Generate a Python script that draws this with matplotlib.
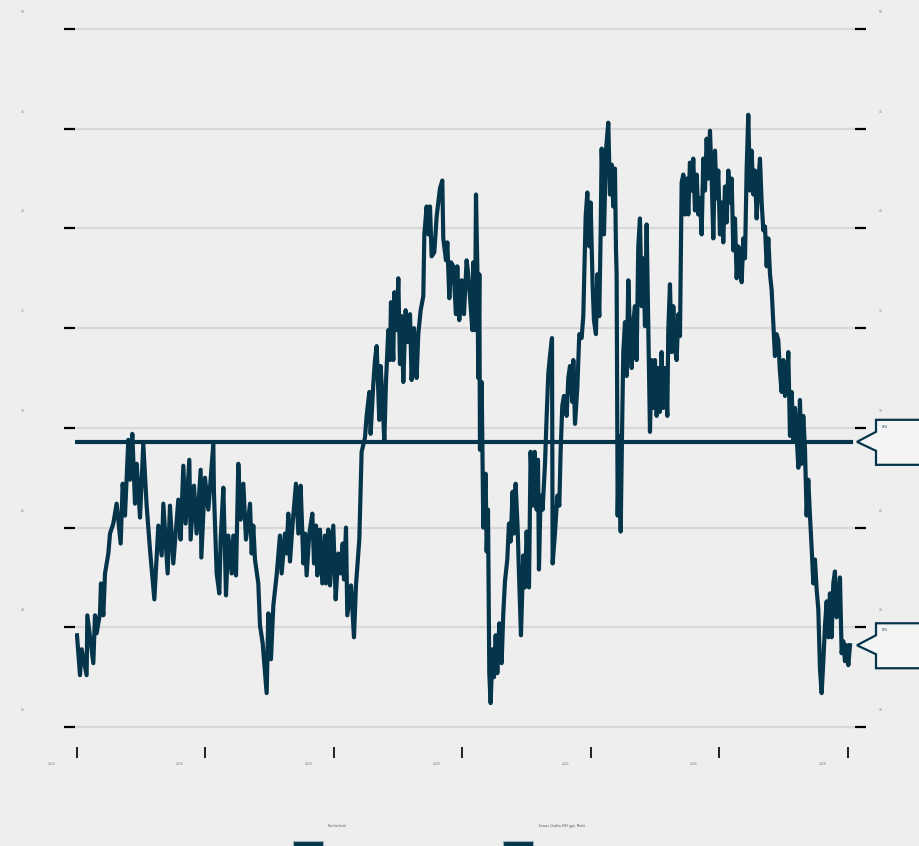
import matplotlib.pyplot as plt
import matplotlib.transforms as mtransforms
from matplotlib.patches import Polygon, Rectangle

# ---- data ----
years = [
    2014.000, 2014.047, 2014.073, 2014.150, 2014.161, 2014.254, 2014.280, 2014.306, 2014.358, 2014.373,
    2014.410, 2014.436, 2014.488, 2014.514, 2014.565, 2014.617, 2014.680, 2014.711, 2014.747, 2014.799,
    2014.825, 2014.861, 2014.903, 2014.929, 2014.981, 2015.032, 2015.084, 2015.136, 2015.204, 2015.266,
    2015.318, 2015.344, 2015.411, 2015.447, 2015.499, 2015.577, 2015.613, 2015.655, 2015.691, 2015.748,
    2015.769, 2015.821, 2015.862, 2015.925, 2015.935, 2015.992, 2016.044, 2016.122, 2016.132, 2016.174,
    2016.215, 2016.236, 2016.278, 2016.319, 2016.355, 2016.407, 2016.433, 2016.475, 2016.511, 2016.547,
    2016.589, 2016.630, 2016.693, 2016.719, 2016.744, 2016.770, 2016.822, 2016.848, 2016.890, 2016.952,
    2016.978, 2017.019, 2017.056, 2017.107, 2017.159, 2017.185, 2017.237, 2017.263, 2017.289, 2017.315,
    2017.356, 2017.408, 2017.445, 2017.481, 2017.523, 2017.548, 2017.574, 2017.616, 2017.663, 2017.689,
    2017.720, 2017.740, 2017.782, 2017.818, 2017.860, 2017.875, 2017.912, 2017.938, 2017.989, 2018.026,
    2018.067, 2018.104, 2018.135, 2018.156, 2018.187, 2018.207, 2018.265, 2018.311, 2018.342, 2018.394,
    2018.430, 2018.482, 2018.508, 2018.550, 2018.570, 2018.612, 2018.638, 2018.664, 2018.705, 2018.726,
    2018.767, 2018.783, 2018.809, 2018.845, 2018.871, 2018.887, 2018.923, 2018.939, 2018.975, 2019.001,
    2019.027, 2019.053, 2019.079, 2019.115, 2019.146, 2019.183, 2019.208, 2019.245, 2019.286, 2019.312,
    2019.349, 2019.390, 2019.406, 2019.442, 2019.468, 2019.494, 2019.520, 2019.561, 2019.598, 2019.623,
    2019.649, 2019.686, 2019.701, 2019.743, 2019.764, 2019.795, 2019.821, 2019.857, 2019.898, 2019.919,
    2019.950, 2019.987, 2020.023, 2020.064, 2020.090, 2020.116, 2020.153, 2020.168, 2020.194, 2020.210,
    2020.231, 2020.246, 2020.262, 2020.272, 2020.298, 2020.324, 2020.360, 2020.376, 2020.397, 2020.417,
    2020.438, 2020.469, 2020.490, 2020.516, 2020.542, 2020.573, 2020.609, 2020.635, 2020.661, 2020.697,
    2020.723, 2020.749, 2020.780, 2020.801, 2020.827, 2020.858, 2020.884, 2020.910, 2020.946, 2020.972,
    2020.998, 2021.035, 2021.060, 2021.092, 2021.123, 2021.154, 2021.175, 2021.190, 2021.216, 2021.247,
    2021.284, 2021.310, 2021.335, 2021.361, 2021.393, 2021.403, 2021.439, 2021.476, 2021.507, 2021.527,
    2021.553, 2021.579, 2021.621, 2021.647, 2021.673, 2021.709, 2021.725, 2021.751, 2021.787, 2021.818,
    2021.854, 2021.880, 2021.917, 2021.943, 2021.974, 2021.994, 2022.025, 2022.046, 2022.077, 2022.098,
    2022.129, 2022.150, 2022.166, 2022.202, 2022.233, 2022.269, 2022.295, 2022.321, 2022.347, 2022.373,
    2022.389, 2022.399, 2022.415, 2022.436, 2022.462, 2022.487, 2022.503, 2022.529, 2022.555, 2022.581,
    2022.607, 2022.633, 2022.658, 2022.684, 2022.710, 2022.736, 2022.762, 2022.788, 2022.814, 2022.840,
    2022.866, 2022.892, 2022.918, 2022.944, 2022.970, 2022.996, 2023.022, 2023.048, 2023.073, 2023.099,
    2023.125, 2023.151, 2023.188, 2023.203, 2023.229, 2023.255, 2023.281, 2023.307, 2023.333, 2023.359,
    2023.385, 2023.411, 2023.437, 2023.463, 2023.489, 2023.515, 2023.540, 2023.566, 2023.592, 2023.618,
    2023.644, 2023.670, 2023.696, 2023.722, 2023.748, 2023.774, 2023.800, 2023.826, 2023.852, 2023.878,
    2023.904, 2023.930, 2023.955, 2023.981, 2024.007, 2024.033, 2024.059, 2024.085, 2024.111, 2024.137,
    2024.163, 2024.189, 2024.215, 2024.241, 2024.267, 2024.293, 2024.319, 2024.345, 2024.371, 2024.397,
    2024.422, 2024.448, 2024.474, 2024.500, 2024.526, 2024.552, 2024.578, 2024.604, 2024.630, 2024.656,
    2024.682, 2024.708, 2024.734, 2024.760, 2024.786, 2024.812, 2024.837, 2024.863, 2024.889, 2024.915,
    2024.941, 2024.967, 2024.993, 2025.019, 2025.045, 2025.071, 2025.097, 2025.123, 2025.149, 2025.175,
    2025.201, 2025.227, 2025.252, 2025.278, 2025.304, 2025.330, 2025.356, 2025.382, 2025.408, 2025.434,
    2025.460, 2025.486, 2025.512, 2025.538, 2025.564, 2025.590, 2025.616, 2025.642, 2025.668, 2025.694,
    2025.719, 2025.745, 2025.771, 2025.797, 2025.823, 2025.849, 2025.875, 2025.901, 2025.927, 2025.953,
    2025.979, 2026.005, 2026.031,
]

ratio = [
    19.6, 17.6, 18.9, 17.6, 20.6, 18.2, 20.6, 19.7, 20.7, 22.2,
    20.6, 22.7, 23.7, 24.7, 25.2, 26.2, 24.2, 27.2, 25.6, 29.4,
    27.4, 29.7, 26.2, 28.2, 25.5, 29.2, 26.1, 23.9, 21.4, 25.1,
    23.6, 26.2, 22.7, 26.1, 23.2, 26.4, 24.4, 28.1, 25.2, 28.4,
    24.4, 27.1, 24.7, 27.9, 23.5, 27.5, 25.9, 29.2, 26.7, 22.7,
    21.7, 24.4, 27.0, 21.6, 24.6, 22.7, 24.6, 22.6, 28.2, 25.4,
    27.2, 24.4, 26.2, 23.7, 25.1, 23.4, 22.2, 20.1, 19.2, 16.7,
    20.7, 18.4, 21.1, 22.6, 24.6, 22.7, 24.7, 23.7, 25.7, 23.3,
    25.2, 27.2, 24.7, 27.1, 23.2, 24.7, 22.6, 24.7, 25.7, 23.2,
    25.1, 22.6, 24.9, 22.2, 24.6, 22.2, 24.9, 22.1, 25.1, 21.4,
    23.7, 22.7, 24.2, 22.4, 25.0, 20.6, 22.1, 19.5, 22.1, 24.4,
    28.8, 29.5, 30.6, 31.8, 29.7, 32.2, 33.4, 34.1, 30.4, 33.1,
    30.6, 29.3, 32.3, 34.9, 33.4, 36.3, 33.4, 36.8, 34.9, 37.5,
    33.2, 35.6, 32.3, 35.9, 34.3, 35.7, 32.4, 35.0, 32.5, 34.7,
    35.9, 36.6, 39.7, 41.1, 39.7, 41.1, 38.6, 38.8, 40.6, 41.3,
    42.0, 42.4, 39.5, 38.4, 39.3, 36.5, 38.3, 38.1, 35.7, 38.1,
    35.4, 37.4, 35.7, 38.4, 37.7, 36.6, 34.9, 38.3, 34.9, 41.7,
    38.1, 32.5, 37.7, 28.9, 32.3, 25.0, 27.7, 23.8, 25.9, 17.7,
    16.2, 18.9, 17.5, 19.6, 17.7, 20.2, 18.2, 20.7, 22.3, 23.4,
    25.2, 24.3, 26.8, 24.7, 27.2, 25.0, 22.2, 19.6, 23.6, 22.0,
    24.8, 22.0, 28.8, 26.1, 28.8, 25.9, 28.4, 22.9, 26.6, 25.9,
    28.2, 30.6, 32.7, 33.6, 34.5, 23.2, 24.7, 26.6, 26.1, 28.8,
    31.1, 31.6, 30.6, 32.5, 33.1, 31.3, 33.4, 30.2, 32.0, 34.7,
    34.5, 35.6, 40.6, 41.8, 39.1, 41.3, 37.2, 35.4, 34.7, 37.7,
    35.6, 39.7, 44.0, 39.7, 43.9, 45.3, 41.7, 43.2, 41.1, 43.0,
    38.9, 37.7, 25.6, 29.6, 24.8, 30.6, 33.8, 35.3, 32.6, 37.4,
    34.6, 33.0, 35.3, 36.1, 33.4, 39.1, 40.5, 36.1, 38.5, 35.1,
    40.2, 35.1, 29.8, 33.4, 31.0, 33.4, 30.6, 33.0, 30.8, 33.8,
    31.0, 33.0, 30.6, 34.9, 37.2, 33.8, 36.1, 34.0, 33.4, 35.7,
    34.6, 42.3, 42.7, 40.7, 42.5, 40.7, 43.3, 41.9, 43.5, 40.9,
    42.7, 40.7, 41.5, 39.7, 43.5, 41.9, 44.5, 42.5, 44.9, 42.5,
    39.5, 43.9, 41.5, 42.9, 39.7, 41.3, 39.3, 42.1, 40.3, 42.9,
    41.3, 42.5, 38.9, 40.5, 37.5, 39.1, 38.5, 37.3, 39.5, 38.5,
    42.9, 45.7, 41.9, 43.9, 41.7, 42.9, 40.5, 42.3, 43.5, 41.3,
    39.9, 40.1, 38.1, 39.5, 37.7, 36.9, 35.3, 33.6, 34.7, 34.4,
    32.8, 31.8, 33.4, 31.6, 32.0, 33.8, 29.6, 31.8, 29.4, 31.0,
    29.6, 28.0, 31.4, 28.2, 30.6, 29.0, 25.6, 27.4, 25.6, 24.0,
    22.2, 23.4, 21.9, 20.9, 17.9, 16.7, 18.3, 20.1, 21.3, 19.5,
    21.7, 19.5, 22.2, 22.8, 20.5, 21.1, 22.5, 18.7, 19.3, 18.3,
    19.1, 18.1, 19.1,
]

avg_value = 29.3
avg_span = [2014.0, 2026.05]

y_ticks = [15, 20, 25, 30, 35, 40, 45, 50]
x_ticks = [2014, 2016, 2018, 2020, 2022, 2024, 2026]

series_names = ["Durchschnitt", "Europe Quality KGV ggü. Markt"]

# ---- styles ----
BG = "#eeeeee"
LINE = "#05354a"
GRID = "#d8d8d8"
LABEL = "#7a7a7a"
W, H = 920, 846

fig = plt.figure(figsize=(W / 100, H / 100), dpi=100)
fig.patch.set_facecolor(BG)
ax = fig.add_axes([75 / W, 109 / H, 780 / W, 717 / H])
ax.set_facecolor(BG)

ax.plot(years, ratio, color=LINE, lw=3, zorder=3)
ax.plot(avg_span, [avg_value, avg_value], color=LINE, lw=3, zorder=3)

ax.set_xlim(2013.969, 2026.109)
ax.set_ylim(14.5, 50.45)
ax.set_yticks(y_ticks)
ax.set_xticks(x_ticks)
ax.grid(axis="y", color=GRID, lw=1.6)
ax.grid(axis="x", visible=False)
ax.set_axisbelow(True)

for s in ax.spines.values():
    s.set_visible(False)
ax.spines["bottom"].set_position(("outward", 7.2))

ax.tick_params(axis="y", left=True, right=True, direction="out", length=7.6,
               width=1.6, color="black", labelleft=False, labelright=False)
ax.tick_params(axis="x", bottom=True, direction="out", length=8, width=1.2,
               color="black", labelbottom=False)

# tick labels, placed like in the reference (shifted from the ticks)
xlab_tr = mtransforms.offset_copy(ax.get_xaxis_transform(), fig=fig, x=-25.5, y=-27, units="dots")
for yr in x_ticks:
    ax.text(yr, 0, str(yr), transform=xlab_tr, ha="center", va="center",
            fontsize=2.2, color=LABEL)

ylab_tr = mtransforms.offset_copy(ax.get_yaxis_transform(), fig=fig, x=0, y=17, units="dots")
for v in y_ticks:
    ax.text(-52 / 780, v, str(v), transform=ylab_tr, ha="center", va="center",
            fontsize=2.2, color=LABEL)
    ax.text(1 + 26 / 780, v, str(v), transform=ylab_tr, ha="center", va="center",
            fontsize=2.2, color=LABEL)

# value callouts on the right edge
to_fig = fig.transFigure.inverted()
for val in [avg_value, ratio[-1]]:
    tip_y = ax.transData.transform((2026, val))[1]
    pts = [(930, tip_y + 22), (876, tip_y + 22), (876, tip_y + 10), (857, tip_y),
           (876, tip_y - 9), (876, tip_y - 23), (930, tip_y - 23)]
    pts = [to_fig.transform(p) for p in pts]
    fig.add_artist(Polygon(pts, closed=True, facecolor="#f4f4f4", edgecolor=LINE,
                           lw=1.6, transform=fig.transFigure, zorder=5))
    tx, ty = to_fig.transform((882, tip_y + 15))
    fig.text(tx, ty, f"{val:.0f}%", fontsize=2, color=LINE, ha="left", va="center", zorder=6)

# legend at the bottom
for sx, lx, name in zip([293, 503], [328, 539], series_names):
    fig.add_artist(Rectangle((sx / W, -2 / H), 30 / W, 7 / H, transform=fig.transFigure,
                             facecolor=LINE, edgecolor="#9fb2bb", lw=0.8))
    fig.text(lx / W, 20 / H, name, fontsize=2.2, color="#555555", ha="left", va="center")

fig.savefig("out.png", dpi=100, facecolor=BG)
